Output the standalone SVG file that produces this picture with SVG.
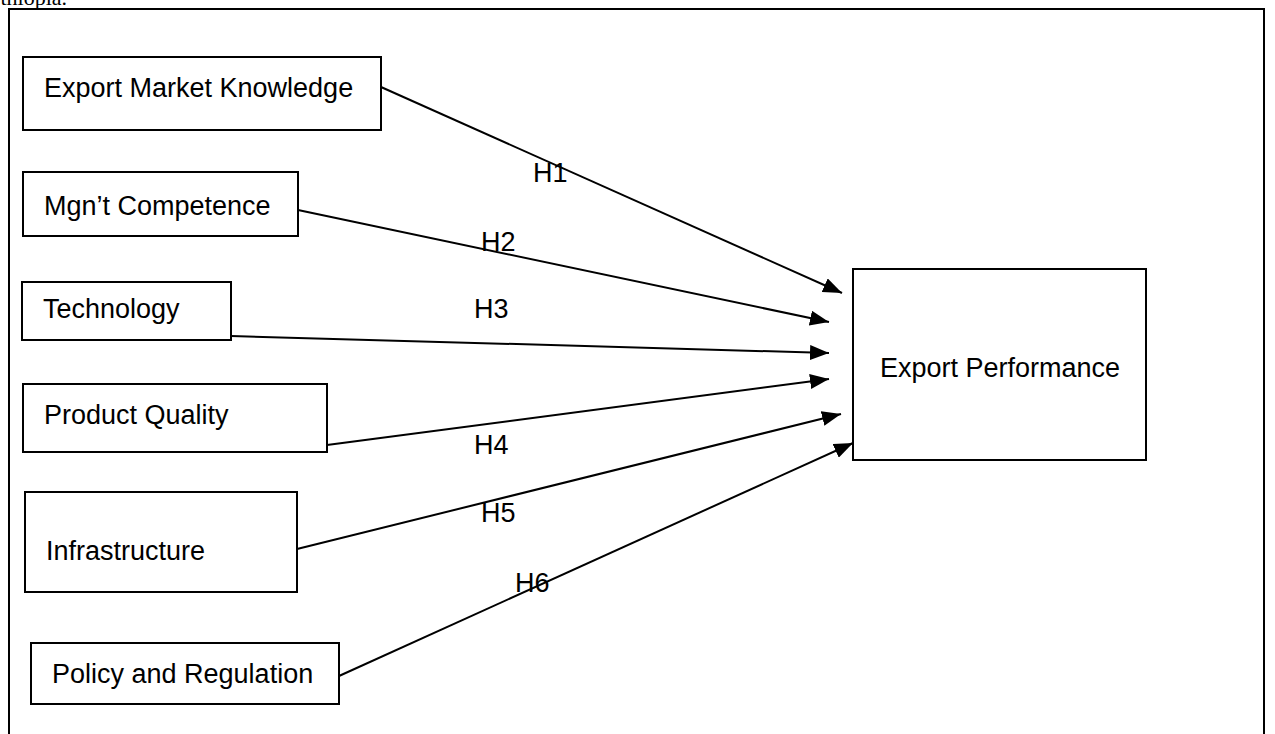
<svg xmlns="http://www.w3.org/2000/svg" width="1275" height="734" viewBox="0 0 1275 734">
<defs>
<style>
.box{fill:#fff;stroke:#000;stroke-width:2}
.t{font-family:"Liberation Sans",Arial,sans-serif;font-size:27px;fill:#000}
.c{stroke:#000;stroke-width:2;fill:none}
</style>
<marker id="arr" markerWidth="19" markerHeight="15" refX="19" refY="7.5" orient="auto" markerUnits="userSpaceOnUse">
<path d="M0,0 L19,7.5 L0,15 Z" fill="#000"/>
</marker>
</defs>
<rect width="1275" height="734" fill="#fff"/>
<text x="-13" y="5" style="font-family:'Liberation Serif','Times New Roman',serif;font-size:22px">Ethiopia.</text>
<rect x="9" y="9" width="1255" height="740" fill="none" stroke="#000" stroke-width="2"/>
<g id="connectors">
<line class="c" x1="381" y1="87" x2="842" y2="293" marker-end="url(#arr)"/>
<line class="c" x1="298" y1="210" x2="829" y2="322" marker-end="url(#arr)"/>
<line class="c" x1="231" y1="336" x2="829" y2="353" marker-end="url(#arr)"/>
<line class="c" x1="327" y1="445" x2="829" y2="379" marker-end="url(#arr)"/>
<line class="c" x1="297" y1="549" x2="841" y2="414" marker-end="url(#arr)"/>
<line class="c" x1="339" y1="676" x2="853" y2="443" marker-end="url(#arr)"/>
<text class="t" x="533" y="182">H1</text>
<text class="t" x="481" y="251">H2</text>
<text class="t" x="474" y="318">H3</text>
<text class="t" x="474" y="454">H4</text>
<text class="t" x="481" y="522">H5</text>
<text class="t" x="515" y="592">H6</text>
</g>
<g id="n1"><rect class="box" x="23" y="57" width="358" height="73"/><text class="t" x="44" y="97">Export Market Knowledge</text></g>
<g id="n2"><rect class="box" x="23" y="172" width="275" height="64"/><text class="t" x="44" y="215">Mgn’t Competence</text></g>
<g id="n3"><rect class="box" x="22" y="282" width="209" height="58"/><text class="t" x="43" y="318">Technology</text></g>
<g id="n4"><rect class="box" x="23" y="384" width="304" height="68"/><text class="t" x="44" y="424">Product Quality</text></g>
<g id="n5"><rect class="box" x="25" y="492" width="272" height="100"/><text class="t" x="46" y="560">Infrastructure</text></g>
<g id="n6"><rect class="box" x="31" y="643" width="308" height="61"/><text class="t" x="52" y="683">Policy and Regulation</text></g>
<g id="n7"><rect class="box" x="853" y="269" width="293" height="191"/><text class="t" x="880" y="377">Export Performance</text></g>
</svg>
